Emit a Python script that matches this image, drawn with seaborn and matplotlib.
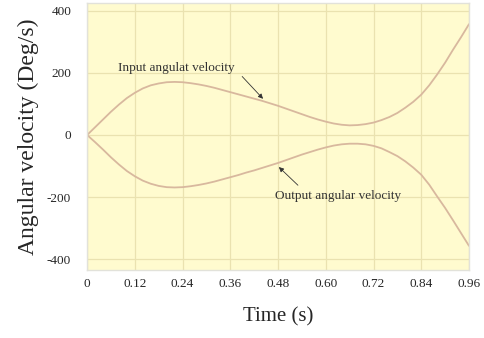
import matplotlib
matplotlib.use("Agg")
import matplotlib.pyplot as plt
import numpy as np
import pandas as pd
import seaborn as sns

# values
time_s = [0.00, 0.02, 0.04, 0.06, 0.08, 0.10, 0.12, 0.14, 0.16, 0.18,
          0.20, 0.22, 0.24, 0.26, 0.28, 0.30, 0.32, 0.34, 0.36, 0.38,
          0.40, 0.42, 0.44, 0.46, 0.48, 0.50, 0.52, 0.54, 0.56, 0.58,
          0.60, 0.62, 0.64, 0.66, 0.68, 0.70, 0.72, 0.74, 0.76, 0.78,
          0.80, 0.82, 0.84, 0.86, 0.88, 0.90, 0.92, 0.94, 0.96]
input_vel = [0, 25, 50, 75, 98, 119, 136, 150, 160, 166,
             170, 171, 170, 167, 163, 158, 152, 145, 138, 131,
             124, 117, 110, 102, 94, 85, 76, 67, 58, 50,
             43, 37, 33, 31, 32, 35, 40, 48, 58, 71,
             88, 107, 130, 160, 195, 233, 275, 315, 357]
output_vel = [0, -23, -47, -72, -95, -116, -133, -147, -157, -164,
              -168, -169, -168, -165, -161, -156, -150, -143, -136, -129,
              -121, -114, -106, -98, -90, -81, -72, -63, -55, -47,
              -40, -34, -30, -28, -28, -30, -35, -43, -55, -68,
              -85, -105, -128, -160, -198, -235, -275, -316, -357]
x_ticks = [0, 0.12, 0.24, 0.36, 0.48, 0.60, 0.72, 0.84, 0.96]
x_tick_labels = ["0", "0.12", "0.24", "0.36", "0.48", "0.60", "0.72", "0.84", "0.96"]
y_ticks = [-400, -200, 0, 200, 400]

df = pd.DataFrame({"Time": time_s, "Input": input_vel, "Output": output_vel})

sns.set_style("white")
plt.rcParams['font.family'] = ['Liberation Serif', 'DejaVu Serif']
plt.rcParams['axes.unicode_minus'] = False

fig = plt.figure(figsize=(4.84, 3.38), dpi=100)
ax = fig.add_axes([0.180, 0.201, 0.789, 0.790])
ax.set_facecolor('#FFFBCF')

curve_col = '#D8B89E'
sns.lineplot(data=df, x="Time", y="Input", ax=ax, color=curve_col, lw=1.3)
sns.lineplot(data=df, x="Time", y="Output", ax=ax, color=curve_col, lw=1.3)

ax.set_xlim(0, 0.96)
ax.set_ylim(-435, 425)
ax.set_xticks(x_ticks)
ax.set_xticklabels(x_tick_labels)
ax.set_yticks(y_ticks)
ax.grid(True, color='#EAE2B0', lw=0.9)
ax.tick_params(axis='x', length=0, pad=6, labelsize=9.5)
ax.tick_params(axis='y', length=3, color='#CCCCCC', pad=8.5, labelsize=9.5)
for s in ax.spines.values():
    s.set_color('#E2E2DA')
    s.set_linewidth(1.0)

ax.set_xlabel("Time (s)", fontsize=15, labelpad=12)
ax.set_ylabel("Angular velocity (Deg/s)", fontsize=17, labelpad=6)

# annotations
ax.text(0.224, 217, "Input angulat velocity", fontsize=9.5, color='#333333',
        ha='center', va='center')
ax.annotate("", xy=(0.447, 110), xytext=(0.385, 195),
            arrowprops=dict(arrowstyle='-|>', color='#333333', lw=0.6,
                            mutation_scale=7))
ax.text(0.631, -195, "Output angular velocity", fontsize=9.5, color='#333333',
        ha='center', va='center')
ax.annotate("", xy=(0.477, -97), xytext=(0.535, -168),
            arrowprops=dict(arrowstyle='-|>', color='#333333', lw=0.6,
                            mutation_scale=7))

plt.savefig("out.png", dpi=100)
